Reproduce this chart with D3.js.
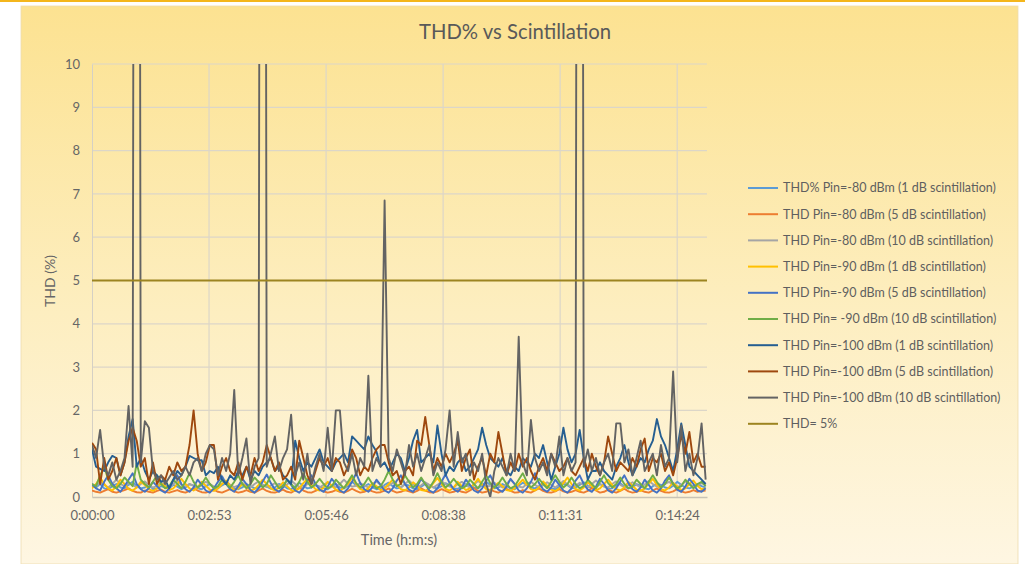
<!DOCTYPE html>
<html><head><meta charset="utf-8">
<script src="https://cdn.jsdelivr.net/npm/d3@7"></script>
<style>
html,body{margin:0;padding:0;background:#fff;}
svg text{font-family:Lato,"Open Sans",sans-serif;fill:#5f5f5f;}
</style></head>
<body><svg id="c" width="1025" height="564"></svg>
<script>
// ---- data ----
const SAMPLE_SECONDS = 6;
const xTickValues = [0, 172.8, 345.6, 518.4, 691.2, 864];
const xTickLabels = ["0:00:00","0:02:53","0:05:46","0:08:38","0:11:31","0:14:24"];
const yTicks = [0,1,2,3,4,5,6,7,8,9,10];
const seriesNames = [
 "THD% Pin=-80 dBm (1 dB scintillation)",
 "THD Pin=-80 dBm (5 dB scintillation)",
 "THD Pin=-80 dBm (10 dB scintillation)",
 "THD Pin=-90 dBm (1 dB scintillation)",
 "THD Pin=-90 dBm (5 dB scintillation)",
 "THD Pin= -90 dBm (10 dB scintillation)",
 "THD Pin=-100 dBm (1 dB scintillation)",
 "THD Pin=-100 dBm (5 dB scintillation)",
 "THD Pin=-100 dBm (10 dB scintillation)",
 "THD= 5%"
];
const seriesColors = ["#5B9BD5","#ED7D31","#A5A5A5","#FFC000","#4472C4","#70AD47","#255E91","#9E480E","#636363","#9C8420"];
const thresholdValue = 5;

const thd80_1 = [
 0.25,0.22,0.3,0.2,0.18,0.25,0.3,0.22,0.2,0.28,0.35,0.25,0.2,0.22,0.3,0.18,0.2,0.25,0.22,
 0.2,0.28,0.24,0.18,0.22,0.3,0.26,0.2,0.18,0.25,0.3,0.22,0.2,0.27,0.32,0.24,0.2,0.18,0.22,
 0.3,0.25,0.2,0.22,0.28,0.24,0.19,0.22,0.3,0.27,0.2,0.18,0.25,0.33,0.26,0.2,0.22,0.28,0.24,
 0.2,0.18,0.25,0.3,0.22,0.2,0.26,0.35,0.27,0.2,0.24,0.3,0.22,0.18,0.2,0.28,0.33,0.25,0.2,
 0.22,0.3,0.26,0.2,0.18,0.24,0.3,0.28,0.22,0.2,0.25,0.32,0.27,0.2,0.19,0.24,0.3,0.26,0.22,
 0.2,0.27,0.35,0.28,0.2,0.22,0.3,0.25,0.2,0.18,0.26,0.33,0.28,0.22,0.2,0.25,0.3,0.24,0.2,
 0.18,0.24,0.3,0.27,0.2,0.22,0.28,0.34,0.26,0.2,0.22,0.3,0.25,0.19,0.2,0.27,0.32,0.24,0.2,
 0.22,0.3,0.26,0.2,0.18,0.25,0.31,0.28,0.22,0.2,0.26,0.35,0.28,0.22,0.2,0.24,0.3,0.25,0.22];
const thd80_5 = [
 0.15,0.12,0.1,0.14,0.18,0.12,0.1,0.13,0.16,0.2,0.14,0.11,0.1,0.15,0.12,0.1,0.14,0.17,0.12,
 0.1,0.13,0.16,0.12,0.1,0.14,0.2,0.15,0.11,0.1,0.13,0.17,0.12,0.1,0.14,0.18,0.13,0.1,0.12,
 0.16,0.12,0.1,0.15,0.2,0.14,0.11,0.1,0.13,0.17,0.12,0.1,0.15,0.22,0.15,0.11,0.1,0.14,0.18,
 0.13,0.1,0.12,0.16,0.12,0.1,0.14,0.19,0.14,0.1,0.12,0.17,0.13,0.1,0.11,0.15,0.2,0.14,0.1,
 0.12,0.16,0.13,0.1,0.14,0.2,0.15,0.11,0.1,0.13,0.18,0.14,0.1,0.12,0.16,0.12,0.1,0.15,0.21,
 0.14,0.1,0.12,0.17,0.13,0.1,0.14,0.19,0.14,0.1,0.11,0.16,0.12,0.1,0.15,0.2,0.14,0.11,0.1,
 0.13,0.18,0.13,0.1,0.12,0.16,0.12,0.1,0.14,0.21,0.15,0.1,0.12,0.17,0.13,0.1,0.14,0.19,0.13,
 0.1,0.12,0.16,0.12,0.1,0.15,0.2,0.14,0.11,0.1,0.13,0.18,0.13,0.1,0.12,0.16,0.12,0.14,0.15];
const thd80_10 = [
 0.3,0.25,0.35,0.28,0.22,0.3,0.4,0.3,0.25,0.32,0.28,0.22,0.3,0.36,0.27,0.22,0.25,0.33,0.28,
 0.22,0.3,0.38,0.28,0.24,0.3,0.26,0.21,0.28,0.35,0.3,0.24,0.22,0.3,0.37,0.28,0.23,0.27,0.33,
 0.26,0.22,0.3,0.36,0.28,0.23,0.26,0.32,0.27,0.22,0.29,0.38,0.3,0.24,0.22,0.3,0.35,0.27,0.22,
 0.28,0.34,0.26,0.22,0.3,0.4,0.3,0.24,0.26,0.32,0.27,0.22,0.3,0.36,0.28,0.23,0.26,0.33,0.27,
 0.22,0.3,0.38,0.29,0.23,0.27,0.34,0.28,0.22,0.28,0.36,0.3,0.24,0.22,0.3,0.35,0.27,0.22,0.29,
 0.37,0.3,0.24,0.26,0.33,0.27,0.22,0.3,0.4,0.3,0.24,0.22,0.3,0.35,0.28,0.23,0.27,0.34,0.28,
 0.22,0.29,0.37,0.29,0.23,0.26,0.33,0.27,0.22,0.3,0.38,0.3,0.24,0.22,0.3,0.36,0.28,0.23,0.27,
 0.34,0.28,0.22,0.29,0.37,0.3,0.24,0.22,0.3,0.35,0.27,0.22,0.28,0.36,0.3,0.24,0.26,0.32,0.28];
const thd90_1 = [
 0.2,0.3,0.45,0.3,0.2,0.15,0.25,0.4,0.3,0.18,0.15,0.22,0.35,0.28,0.18,0.14,0.2,0.32,0.25,
 0.16,0.2,0.3,0.42,0.3,0.2,0.15,0.22,0.35,0.26,0.17,0.14,0.2,0.3,0.38,0.25,0.16,0.2,0.3,
 0.24,0.15,0.18,0.28,0.4,0.3,0.2,0.15,0.22,0.34,0.25,0.16,0.14,0.2,0.32,0.42,0.28,0.18,0.15,
 0.22,0.35,0.26,0.17,0.14,0.22,0.3,0.45,0.3,0.18,0.15,0.2,0.32,0.25,0.16,0.2,0.3,0.4,0.28,
 0.18,0.15,0.22,0.34,0.26,0.16,0.14,0.2,0.32,0.44,0.3,0.19,0.15,0.22,0.35,0.25,0.16,0.2,0.3,
 0.42,0.28,0.18,0.15,0.22,0.33,0.25,0.16,0.14,0.2,0.3,0.4,0.28,0.18,0.15,0.22,0.36,0.26,0.17,
 0.14,0.2,0.32,0.45,0.3,0.19,0.15,0.22,0.34,0.25,0.16,0.2,0.3,0.4,0.28,0.18,0.15,0.22,0.35,
 0.26,0.17,0.14,0.2,0.31,0.42,0.28,0.18,0.15,0.22,0.33,0.25,0.16,0.2,0.3,0.38,0.26,0.18,0.2];
const thd90_5 = [
 0.3,0.2,0.15,0.35,0.5,0.3,0.2,0.12,0.25,0.4,0.55,0.3,0.18,0.12,0.2,0.35,0.25,0.15,0.1,
 0.2,0.38,0.5,0.3,0.18,0.12,0.22,0.4,0.28,0.15,0.1,0.2,0.35,0.48,0.3,0.18,0.12,0.25,0.42,
 0.3,0.16,0.1,0.2,0.36,0.52,0.32,0.18,0.12,0.22,0.4,0.28,0.15,0.1,0.2,0.38,0.5,0.3,0.17,
 0.12,0.24,0.42,0.3,0.15,0.1,0.2,0.35,0.55,0.32,0.18,0.12,0.22,0.4,0.28,0.15,0.1,0.2,0.38,
 0.5,0.3,0.17,0.12,0.24,0.42,0.3,0.15,0.1,0.2,0.36,0.52,0.32,0.18,0.12,0.22,0.4,0.28,0.15,
 0.1,0.2,0.38,0.5,0.3,0.17,0.12,0.24,0.42,0.3,0.15,0.1,0.2,0.35,0.55,0.32,0.18,0.12,0.22,
 0.4,0.28,0.15,0.1,0.2,0.38,0.5,0.3,0.17,0.12,0.24,0.42,0.3,0.15,0.1,0.2,0.36,0.5,0.32,
 0.18,0.12,0.22,0.4,0.28,0.15,0.1,0.2,0.38,0.5,0.3,0.17,0.12,0.24,0.42,0.3,0.15,0.12,0.2];
const thd90_10 = [
 0.3,0.25,0.5,0.7,0.4,0.25,0.2,0.3,0.45,0.35,0.25,0.78,0.4,0.3,0.22,0.35,0.5,0.3,0.2,
 0.25,0.4,0.3,0.2,0.35,0.55,0.35,0.22,0.3,0.45,0.3,0.2,0.25,0.4,0.3,0.22,0.35,0.5,0.3,
 0.2,0.3,0.45,0.35,0.22,0.3,0.5,0.35,0.2,0.25,0.4,0.3,0.2,0.35,0.55,0.35,0.22,0.3,0.42,
 0.3,0.2,0.25,0.4,0.3,0.2,0.35,0.5,0.32,0.22,0.3,0.45,0.3,0.2,0.25,0.4,0.6,0.4,0.25,
 0.3,0.5,0.35,0.22,0.3,0.45,0.3,0.2,0.35,0.55,0.35,0.22,0.3,0.42,0.3,0.2,0.25,0.4,0.3,
 0.2,0.35,0.5,0.32,0.22,0.3,0.45,0.3,0.2,0.25,0.4,0.55,0.35,0.22,0.3,0.42,0.3,0.2,0.35,
 0.5,0.35,0.22,0.3,0.45,0.3,0.2,0.25,0.4,0.3,0.2,0.35,0.5,0.32,0.22,0.3,0.45,0.3,0.2,
 0.25,0.4,0.3,0.2,0.35,0.5,0.35,0.22,0.3,0.45,0.3,0.2,0.25,0.4,0.3,0.2,0.3,0.35,0.25];
const thd100_1 = [
 1.1,0.7,0.65,0.6,0.8,0.95,0.9,0.5,0.8,1.4,1.8,0.7,0.9,0.6,0.4,0.6,0.5,0.35,0.4,
 0.2,0.4,0.6,0.5,0.7,0.95,0.9,0.85,0.85,0.5,0.6,0.55,0.7,0.4,0.3,0.5,0.4,0.6,0.5,
 0.7,0.4,0.6,0.5,0.7,0.8,0.9,0.6,0.7,0.5,0.4,0.3,1.3,0.9,0.6,0.8,0.7,0.9,1.1,
 0.8,0.7,0.6,0.8,0.9,1.0,0.8,1.4,1.3,1.2,1.1,1.4,1.2,1.05,0.7,0.8,0.6,0.8,1.0,
 0.9,0.6,0.9,1.3,1.55,0.8,0.9,1.0,0.8,1.65,1.0,0.5,0.7,0.6,0.8,0.9,0.6,0.7,0.9,
 1.1,1.6,1.2,0.9,0.8,0.7,0.9,0.6,0.5,0.7,0.6,0.9,0.8,0.7,1.0,0.9,1.2,0.8,0.4,
 0.7,1.0,1.6,1.1,0.8,1.0,1.55,0.9,0.4,0.6,0.6,0.8,0.6,0.5,0.4,0.7,0.9,1.2,0.8,
 0.5,0.7,0.9,0.8,1.1,1.3,1.8,1.4,1.2,0.9,0.6,1.1,1.7,1.2,0.7,0.6,0.5,0.4,0.3];
const thd100_5 = [
 1.25,1.1,0.3,0.9,0.4,0.6,0.9,0.5,0.8,1.3,1.6,1.3,0.7,0.9,0.3,0.8,0.3,0.5,0.4,
 0.7,0.5,0.8,0.6,0.7,1.2,2.0,1.0,0.6,0.8,1.2,1.2,0.4,0.7,0.9,0.6,0.5,0.8,0.4,
 0.7,0.5,0.9,0.6,0.8,1.2,0.9,0.6,0.8,0.4,0.5,0.7,0.4,1.3,0.9,0.5,0.3,0.6,0.9,
 0.7,0.9,0.6,0.9,0.8,0.5,0.7,1.1,0.9,0.5,0.7,0.6,0.9,1.1,1.2,1.2,0.8,0.5,0.6,
 0.3,0.6,0.7,0.5,1.3,1.2,1.85,1.2,0.6,0.9,0.7,1.0,0.8,1.0,1.3,0.6,0.9,1.1,0.4,
 0.7,0.9,0.5,1.0,0.8,1.5,1.0,0.5,0.8,0.6,1.0,0.7,0.9,0.6,0.4,0.7,0.9,0.6,1.0,
 0.8,0.6,0.7,0.9,0.6,0.5,0.7,0.9,0.6,1.0,0.7,0.5,0.8,1.4,1.0,0.6,0.8,0.7,0.6,
 0.9,0.7,1.1,1.35,0.6,0.9,0.8,1.0,0.6,0.8,0.5,0.9,1.45,1.0,1.5,0.8,1.0,0.7,0.7];
const thd100_10 = [
 1.2,0.9,1.55,0.7,0.5,0.8,0.4,0.6,0.9,2.1,0.7,60,0.8,1.75,1.6,0.6,0.4,0.5,0.3,
 0.45,0.6,0.4,0.5,0.7,0.5,0.8,0.9,0.6,1.0,1.2,1.1,0.5,0.9,0.6,1.0,2.47,0.5,0.9,
 1.35,0.3,0.7,0.9,60,0.7,1.0,1.4,0.6,0.9,1.1,1.9,0.5,0.8,0.4,1.0,0.3,0.7,1.0,
 0.6,1.6,0.6,2.0,2.0,0.8,0.6,1.0,0.5,0.9,0.7,2.8,0.6,0.9,0.7,6.85,0.9,0.6,1.1,
 0.8,0.5,1.2,0.7,1.0,0.6,0.9,1.2,0.5,0.8,0.6,1.1,2.0,0.7,1.5,0.8,1.0,0.5,0.8,
 0.6,1.0,0.3,0.0,0.6,0.9,0.7,0.5,1.0,0.6,3.7,0.8,0.5,1.78,0.9,0.6,0.8,0.5,1.0,
 0.7,1.4,0.5,0.9,0.6,0.8,60,0.7,1.1,0.6,0.9,0.5,0.8,1.0,0.6,1.7,1.7,0.8,1.1,
 0.5,0.9,1.3,0.6,0.8,1.0,0.5,1.2,0.7,0.9,2.9,0.8,1.65,0.6,1.0,0.5,0.9,1.7,0.4];

const seriesValues = [thd80_1, thd80_5, thd80_10, thd90_1, thd90_5, thd90_10, thd100_1, thd100_5, thd100_10];

// ---- layout ----
const W = 1025, H = 564;
const plot = {left: 92, right: 707, top: 64, bottom: 497};
const svg = d3.select("#c");
const defs = svg.append("defs");
const grad = defs.append("linearGradient").attr("id","bg").attr("x1",0).attr("y1",0).attr("x2",0).attr("y2",1);
grad.append("stop").attr("offset","0%").attr("stop-color","#FCE291");
grad.append("stop").attr("offset","55%").attr("stop-color","#FDEEC0");
grad.append("stop").attr("offset","100%").attr("stop-color","#FEF6E2");
defs.append("clipPath").attr("id","clip").append("rect")
  .attr("x",plot.left).attr("y",plot.top).attr("width",plot.right-plot.left).attr("height",plot.bottom-plot.top);

svg.append("rect").attr("x",0).attr("y",0).attr("width",W).attr("height",2).attr("fill","#F4B61C");
svg.append("rect").attr("x",21).attr("y",6).attr("width",997).attr("height",H-6)
  .attr("fill","url(#bg)").attr("stroke","#EEDDB0").attr("stroke-width",0.8);

const x = d3.scaleLinear().domain([0, 908]).range([plot.left, plot.right]);
const y = d3.scaleLinear().domain([0, 10]).range([plot.bottom, plot.top]);

// gridlines
const grid = svg.append("g");
grid.selectAll("line.h").data(yTicks.slice(1)).join("line")
  .attr("x1",plot.left).attr("x2",plot.right)
  .attr("y1",d=>y(d)).attr("y2",d=>y(d))
  .attr("stroke","#DCD6C8").attr("stroke-width",1.2);
grid.selectAll("line.v").data(xTickValues.slice(1)).join("line")
  .attr("x1",d=>x(d)).attr("x2",d=>x(d))
  .attr("y1",plot.top).attr("y2",plot.bottom)
  .attr("stroke","#DCD6C8").attr("stroke-width",1.2);

// axes
const yAxis = d3.axisLeft(y).tickValues(yTicks).tickSize(0).tickPadding(12).tickFormat(d3.format("d"));
const gy = svg.append("g").attr("transform",`translate(${plot.left},0)`).call(yAxis);
gy.select(".domain").attr("stroke","#D5D0C4");
gy.selectAll("text").attr("font-size",13).style("fill","#666");

const xAxis = d3.axisBottom(x).tickValues(xTickValues).tickSize(0).tickPadding(14)
  .tickFormat((d,i)=>xTickLabels[i]);
const gx = svg.append("g").attr("transform",`translate(0,${plot.bottom})`).call(xAxis);
gx.select(".domain").attr("stroke","#C9C3B5").attr("stroke-width",1.5);
gx.selectAll("text").attr("font-size",13).style("fill","#666");

// series
const line = d3.line().x((d,i)=>x(i*SAMPLE_SECONDS)).y(d=>y(d));
const lines = svg.append("g").attr("clip-path","url(#clip)");
seriesValues.forEach((vals,k)=>{
  lines.append("path").datum(vals).attr("d",line)
    .attr("fill","none").attr("stroke",seriesColors[k])
    .attr("stroke-width",1.9).attr("stroke-linejoin","round");
});
// threshold
lines.append("line").datum(thresholdValue)
  .attr("x1",plot.left).attr("x2",plot.right)
  .attr("y1",d=>y(d)).attr("y2",d=>y(d))
  .attr("stroke",seriesColors[9]).attr("stroke-width",2);

// titles
svg.append("text").attr("x",515).attr("y",39).attr("text-anchor","middle")
  .attr("font-size",20.3).style("fill","#595959").text("THD% vs Scintillation");
svg.append("text").attr("transform","translate(55,281) rotate(-90)").attr("text-anchor","middle")
  .attr("font-size",14).style("fill","#666").text("THD (%)");
svg.append("text").attr("x",399).attr("y",545).attr("text-anchor","middle")
  .attr("font-size",14.5).style("fill","#666").text("Time (h:m:s)");

// legend
const lg = svg.append("g");
seriesNames.forEach((name,k)=>{
  const yy = 188 + k*26.2;
  lg.append("line").attr("x1",748).attr("x2",778).attr("y1",yy).attr("y2",yy)
    .attr("stroke",seriesColors[k]).attr("stroke-width",2);
  lg.append("text").attr("x",783).attr("y",yy+4.3).attr("font-size",12.5)
    .style("fill","#5f5f5f").text(name);
});
</script></body></html>
